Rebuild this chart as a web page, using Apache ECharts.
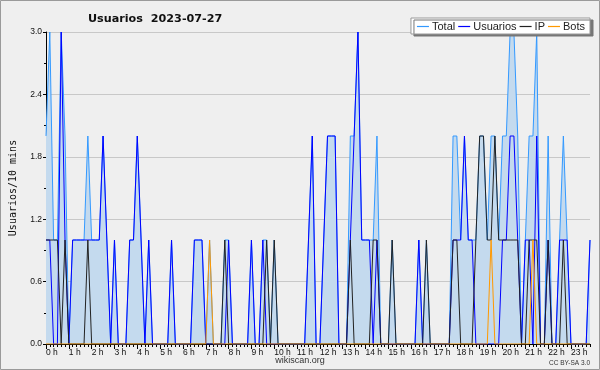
<!DOCTYPE html>
<html>
<head>
<meta charset="utf-8">
<script src="https://cdn.jsdelivr.net/npm/echarts@6/dist/echarts.min.js"></script>
<style>
  html, body { margin: 0; padding: 0; background: #efefef; }
  #chart { width: 600px; height: 370px; }
</style>
</head>
<body>
<div id="chart"></div>
<script>
// usuarios per 10 min slot, 2023-07-27 (144 slots)
var hourLabels = ['0 h','1 h','2 h','3 h','4 h','5 h','6 h','7 h','8 h','9 h','10 h','11 h',
  '12 h','13 h','14 h','15 h','16 h','17 h','18 h','19 h','20 h','21 h','22 h','23 h'];

var usuarios = [
  1,1,0,0,3,1,0,1,1,1,  1,1,1,1,1,2,1,0,1,0,
  0,0,1,1,2,1,0,1,0,0,  0,0,0,1,0,0,0,0,0,1,
  1,1,0,0,0,0,0,0,1,0,  0,0,0,0,1,0,0,1,0,0,
  0,0,0,0,0,0,0,0,0,1,  2,0,0,1,2,2,2,0,0,0,
  1,2,3,1,1,1,0,1,0,0,  0,0,0,0,0,0,0,0,1,0,
  0,0,0,0,0,0,0,1,1,1,  2,1,1,0,0,0,0,0,0,0,
  1,1,2,2,1,0,1,1,0,2,  0,0,1,0,0,1,1,1,0,0,
  0,0,0,1
];
var ip = [
  1,1,1,1,0,1,0,0,0,0,  0,1,0,0,0,0,0,0,0,0,
  0,0,0,0,0,0,0,0,0,0,  0,0,0,0,0,0,0,0,0,0,
  0,0,0,0,0,0,0,1,0,0,  0,0,0,0,0,0,0,0,1,0,
  1,0,0,0,0,0,0,0,0,0,  0,0,0,0,0,0,0,0,0,0,
  1,0,0,0,0,0,1,1,0,0,  0,1,0,0,0,0,0,0,0,0,
  1,0,0,0,0,0,0,1,1,0,  0,0,0,1,2,2,1,1,2,1,
  1,1,1,1,1,0,0,1,1,1,  0,0,1,0,0,0,1,0,0,0,
  0,0,0,0
];
var bots = [
  0,0,0,0,0,0,0,0,0,0,  0,0,0,0,0,0,0,0,0,0,
  0,0,0,0,0,0,0,0,0,0,  0,0,0,0,0,0,0,0,0,0,
  0,0,0,1,0,0,0,0,0,0,  0,0,0,0,0,0,0,0,0,0,
  0,0,0,0,0,0,0,0,0,0,  0,0,0,0,0,0,0,0,0,0,
  0,0,0,0,0,0,0,0,0,0,  0,0,0,0,0,0,0,0,0,0,
  0,0,0,0,0,0,0,0,0,0,  0,0,0,0,0,0,0,1,0,0,
  0,0,0,0,0,0,0,0,1,0,  0,0,0,0,0,0,0,0,0,0,
  0,0,0,0
];
var total = [
  2,3,1,1,3,2,0,1,1,1,  1,2,1,1,1,2,1,0,1,0,
  0,0,1,1,2,1,0,1,0,0,  0,0,0,1,0,0,0,0,0,1,
  1,1,0,1,0,0,0,1,1,0,  0,0,0,0,1,0,0,1,1,0,
  1,0,0,0,0,0,0,0,0,1,  2,0,0,1,2,2,2,0,0,0,
  2,2,3,1,1,1,1,2,0,0,  0,1,0,0,0,0,0,0,1,0,
  1,0,0,0,0,0,0,2,2,1,  2,1,1,1,2,2,1,2,2,1,
  2,2,3,3,2,0,1,2,2,3,  0,0,2,0,0,1,2,1,0,0,
  0,0,0,1
];

// category names hh:mm for each slot
var slots = [];
for (var i = 0; i < usuarios.length; i++) {
  var h = Math.floor(i / 6), m = (i % 6) * 10;
  slots.push(h + ':' + (m < 10 ? '0' + m : m));
}

var chart = echarts.init(document.getElementById('chart'));

function lineSerie(name, data, color, area) {
  var s = {
    name: name,
    type: 'line',
    data: data,
    color: color,
    symbol: 'none',
    showSymbol: false,
    lineStyle: { width: 1, color: color },
    xAxisIndex: 0
  };
  if (area) s.areaStyle = { color: '#c4daee', opacity: 1 };
  return s;
}

var option = {
  animation: false,
  backgroundColor: '#efefef',
  title: {
    text: 'Usuarios  2023-07-27',
    left: 83,
    top: 9,
    textStyle: { fontFamily: 'DejaVu Sans', fontSize: 11.2, fontWeight: 'bold', color: '#111' }
  },
  legend: {
    right: 10,
    top: 18,
    padding: [3, 5, 2, 6],
    itemGap: 3,
    itemWidth: 12,
    itemHeight: 1.2,
    icon: 'rect',
    backgroundColor: '#fff',
    borderColor: '#999',
    borderWidth: 1,
    shadowColor: '#777',
    shadowBlur: 0,
    shadowOffsetX: 3,
    shadowOffsetY: 2,
    textStyle: { fontFamily: 'Liberation Sans', fontSize: 11, color: '#222', padding: [0, 0, 0, -2] },
    data: ['Total', 'Usuarios', 'IP', 'Bots']
  },
  grid: { left: 42.6, right: 10, top: 32, bottom: 26 },
  xAxis: [{
    type: 'category',
    data: slots,
    boundaryGap: false,
    axisLine: { lineStyle: { color: '#000', width: 1 } },
    axisTick: { interval: 0, length: 3, lineStyle: { color: '#000' } },
    axisLabel: {
      interval: 5,
      align: 'left',
      margin: 4,
      fontFamily: 'Liberation Sans',
      fontSize: 8.5,
      color: '#111',
      formatter: function (v, idx) { return hourLabels[idx / 6]; }
    },
    splitLine: { show: false }
  }, {
    type: 'category',
    data: slots,
    boundaryGap: false,
    position: 'bottom',
    axisLine: { show: false },
    axisTick: { interval: 5, length: 5, lineStyle: { color: '#000' } },
    axisLabel: { show: false },
    splitLine: { show: false }
  }],
  yAxis: {
    type: 'value',
    min: 0,
    max: 3,
    interval: 0.6,
    name: 'Usuarios/10 mins',
    nameLocation: 'middle',
    nameGap: 28,
    nameRotate: 90,
    nameTextStyle: { fontFamily: 'DejaVu Sans Mono', fontSize: 10, color: '#111' },
    axisLine: { show: true, lineStyle: { color: '#000' } },
    axisTick: { show: true, length: 3, lineStyle: { color: '#000' } },
    minorTick: { show: true, splitNumber: 2, length: 2, lineStyle: { color: '#000' } },
    axisLabel: {
      margin: 4,
      fontFamily: 'Liberation Sans',
      fontSize: 8.5,
      color: '#111',
      formatter: function (v) { return v.toFixed(1); }
    },
    splitLine: { lineStyle: { color: '#c8c8c8', width: 1 } }
  },
  series: [
    lineSerie('Total', total, '#3399ff', true),
    lineSerie('Usuarios', usuarios, '#0000ff', false),
    lineSerie('IP', ip, '#222222', false),
    lineSerie('Bots', bots, '#ff9900', false)
  ],
  graphic: [
    {
      type: 'rect',
      shape: { x: 0.5, y: 0.5, width: 599, height: 369 },
      style: { fill: null, stroke: '#9a9a9a', lineWidth: 1 },
      silent: true
    },
    {
      type: 'text',
      left: 'center',
      top: 356,
      style: { text: 'wikiscan.org', font: '9px "Liberation Sans"', fill: '#333' }
    },
    {
      type: 'text',
      right: 10,
      top: 360,
      style: { text: 'CC BY-SA 3.0', font: '6.5px "Liberation Sans"', fill: '#333' }
    }
  ]
};

chart.setOption(option);
window.addEventListener('resize', function () { chart.resize(); });
</script>
</body>
</html>
